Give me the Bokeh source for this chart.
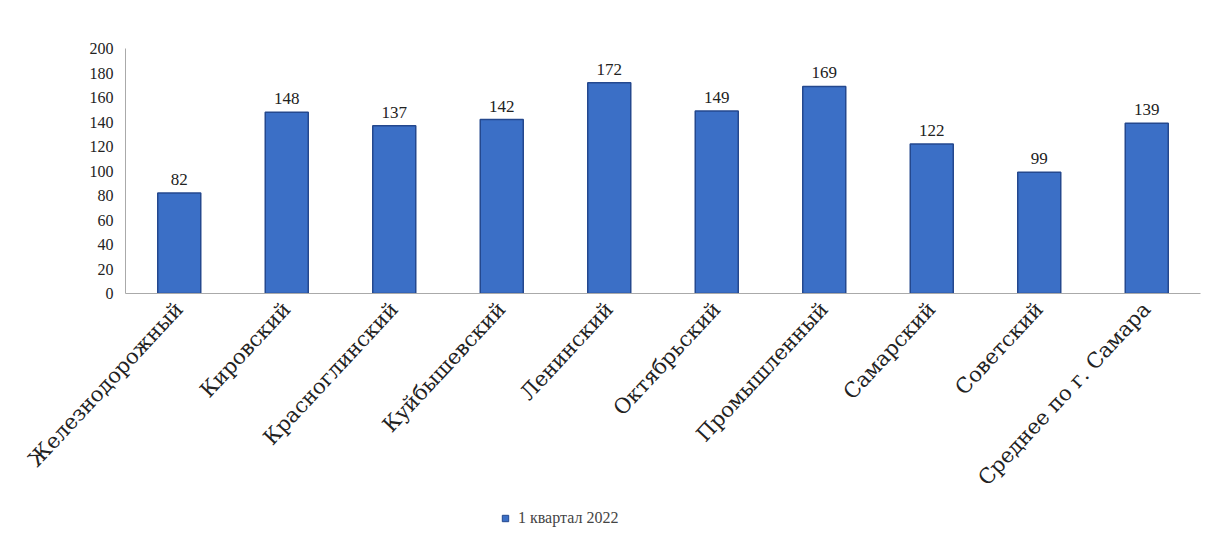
import math
from bokeh.plotting import figure
from bokeh.layouts import column
from bokeh.models import ColumnDataSource, LabelSet, Legend, LegendItem, FixedTicker, Range1d
from bokeh.embed import file_html
from bokeh.resources import INLINE

districts = ["Железнодорожный", "Кировский", "Красноглинский", "Куйбышевский", "Ленинский",
             "Октябрьский", "Промышленный", "Самарский", "Советский", "Среднее по г. Самара"]
values = [82, 148, 137, 142, 172, 149, 169, 122, 99, 139]
series_name = "1 квартал 2022"
y_ticks = [0, 20, 40, 60, 80, 100, 120, 140, 160, 180, 200]

src = ColumnDataSource(dict(x=districts, y=values, lbl=[str(v) for v in values]))

BAR_FILL = "#3b6fc6"
BAR_LINE = "#24488e"

p = figure(x_range=districts, y_range=Range1d(0, 200),
           frame_width=1075, frame_height=245,
           min_border_left=125, min_border_top=48, min_border_right=6, min_border_bottom=212,
           output_backend="svg", toolbar_location=None,
           background_fill_color="white", border_fill_color="white")
p.outline_line_color = None
p.xgrid.grid_line_color = None
p.ygrid.grid_line_color = None

r = p.vbar(x="x", top="y", width=0.4, source=src,
           fill_color=BAR_FILL, line_color=BAR_LINE, line_width=1.5)

labels = LabelSet(x="x", y="y", text="lbl", source=src, text_align="center",
                  y_offset=8, text_font="Liberation Serif", text_font_size="17px",
                  text_color="#222222", background_fill_color="white",
                  background_fill_alpha=0.9)
p.add_layout(labels)

p.yaxis.ticker = FixedTicker(ticks=y_ticks)
p.yaxis.minor_tick_line_color = None
p.yaxis.major_tick_line_color = None
p.yaxis.axis_line_color = "#aaaaaa"
p.yaxis.major_label_text_font = "Liberation Serif"
p.yaxis.major_label_text_font_size = "16px"
p.yaxis.major_label_text_color = "#222222"
p.yaxis.major_label_standoff = 6

p.xaxis.axis_line_color = "#aaaaaa"
p.xaxis.major_tick_line_color = None
p.xaxis.minor_tick_line_color = None
p.xaxis.major_tick_out = 0
p.xaxis.major_tick_in = 0
p.xaxis.major_label_orientation = math.radians(47)
p.xaxis.major_label_text_font = "DejaVu Serif"
p.xaxis.major_label_text_font_size = "21px"
p.xaxis.major_label_text_color = "#222222"
p.xaxis.major_label_standoff = 12

# legend strip below the chart
p2 = figure(x_range=p.x_range, y_range=Range1d(1000, 1001),
            frame_width=1075, frame_height=24,
            min_border_left=125, min_border_right=6, min_border_top=0, min_border_bottom=0,
            output_backend="svg", toolbar_location=None,
            x_axis_location=None, y_axis_location=None,
            background_fill_color="white", border_fill_color="white")
p2.outline_line_color = None
p2.xgrid.grid_line_color = None
p2.ygrid.grid_line_color = None
r2 = p2.scatter(x="x", y="y", marker="square", size=16, source=src,
                fill_color=BAR_FILL, line_color=BAR_LINE)
legend = Legend(items=[LegendItem(label=series_name, renderers=[r2])],
                location=(372, 2), orientation="horizontal",
                label_text_font="Liberation Serif", label_text_font_size="16px",
                border_line_color=None, background_fill_alpha=0.0,
                glyph_width=16, glyph_height=16,
                padding=2, margin=0, label_height=16)
p2.add_layout(legend)

layout = column(p, p2, spacing=0)
open("out.html", "w").write(file_html(layout, INLINE))
